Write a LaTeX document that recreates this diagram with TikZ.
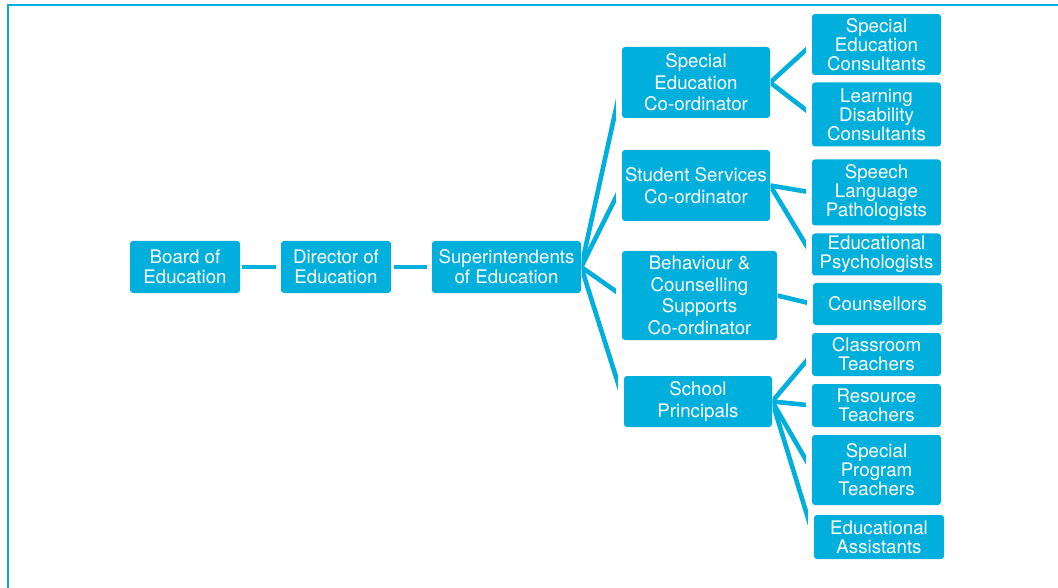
\documentclass[tikz,border=0pt]{standalone}
\usepackage{fontspec}
\setmainfont{TeX Gyre Heros}
\usetikzlibrary{calc}
\definecolor{boxc}{RGB}{0,175,219}
\tikzset{
  box/.style={fill=boxc, rounded corners=3pt, text=white, align=center, inner sep=0pt, draw=none},
  lcol/.style={box, font=\fontsize{18.7}{20}\selectfont},
  mcol/.style={box, font=\fontsize{18.7}{21.5}\selectfont},
  rcol/.style={box, font=\fontsize{18.7}{19}\selectfont},
  conn/.style={draw=boxc, line width=4.6pt, line cap=butt},
  framel/.style={draw=boxc, line width=2pt}
}
\newcommand\linkbox[4]{%
  \begin{scope}
    \clip let \p1=(#1.east), \p2=(#2.west) in (\x1+#3,20pt) rectangle (\x2-#4,-620pt);
    \draw[conn] (#1.east) -- (#2.west);
  \end{scope}}
\begin{document}
\begin{tikzpicture}[x=1pt,y=-1pt]
\useasboundingbox (0,0) rectangle (1058,588);
\draw[framel] (8,590) -- (8,5.5) -- (1060,5.5);
% left column
\node[lcol, minimum width=110pt, minimum height=52pt] (board) at (185,267) {Board of\\Education};
\node[lcol, minimum width=110pt, minimum height=52pt] (dir) at (336,267) {Director of\\Education};
\node[lcol, minimum width=149pt, minimum height=52pt] (sup) at (506.5,267) {Superintendents\\of Education};
% middle column
\node[mcol, minimum width=148pt, minimum height=71pt] (sec) at (696,82.5) {Special\\Education\\Co-ordinator};
\node[mcol, minimum width=148pt, minimum height=71pt] (ssc) at (696,185.5) {Student Services\\Co-ordinator};
\node[mcol, minimum width=155pt, minimum height=89pt] (bcs) at (699.5,295.5) {Behaviour \&\\Counselling\\Supports\\Co-ordinator};
\node[mcol, minimum width=148pt, minimum height=51pt] (sp) at (698,401.5) {School\\Principals};
% right column
\node[rcol, minimum width=129pt, minimum height=61pt] (sed) at (876.5,44.5) {Special\\Education\\Consultants};
\node[rcol, minimum width=129pt, minimum height=64pt] (ldc) at (876.5,114.5) {Learning\\Disability\\Consultants};
\node[rcol, minimum width=129pt, minimum height=66pt] (slp) at (876.5,192.5) {Speech\\Language\\Pathologists};
\node[rcol, minimum width=129pt, minimum height=42pt] (edp) at (876.5,254.5) {Educational\\Psychologists};
\node[rcol, minimum width=129pt, minimum height=42pt] (cou) at (877.5,304) {Counsellors};
\node[rcol, minimum width=129pt, minimum height=43pt] (cls) at (876.5,354.5) {Classroom\\Teachers};
\node[rcol, minimum width=129pt, minimum height=43pt] (res) at (876.5,405.5) {Resource\\Teachers};
\node[rcol, minimum width=129pt, minimum height=70pt] (spt) at (876.5,470) {Special\\Program\\Teachers};
\node[rcol, minimum width=130pt, minimum height=44pt] (eda) at (879,537) {Educational\\Assistants};
% connectors
\linkbox{board}{dir}{2pt}{5pt}
\linkbox{dir}{sup}{3pt}{5pt}
\linkbox{sup}{sec}{0.5pt}{6pt}
\linkbox{sup}{ssc}{0.5pt}{6pt}
\linkbox{sup}{bcs}{0.5pt}{6pt}
\linkbox{sup}{sp}{0.5pt}{6pt}
\linkbox{sec}{sed}{0.5pt}{6pt}
\linkbox{sec}{ldc}{0.5pt}{6pt}
\linkbox{ssc}{slp}{0.5pt}{6pt}
\linkbox{ssc}{edp}{0.5pt}{6pt}
\linkbox{bcs}{cou}{0.5pt}{6pt}
\linkbox{sp}{cls}{0.5pt}{6pt}
\linkbox{sp}{res}{0.5pt}{6pt}
\linkbox{sp}{spt}{0.5pt}{6pt}
\linkbox{sp}{eda}{0.5pt}{6pt}
\end{tikzpicture}
\end{document}
